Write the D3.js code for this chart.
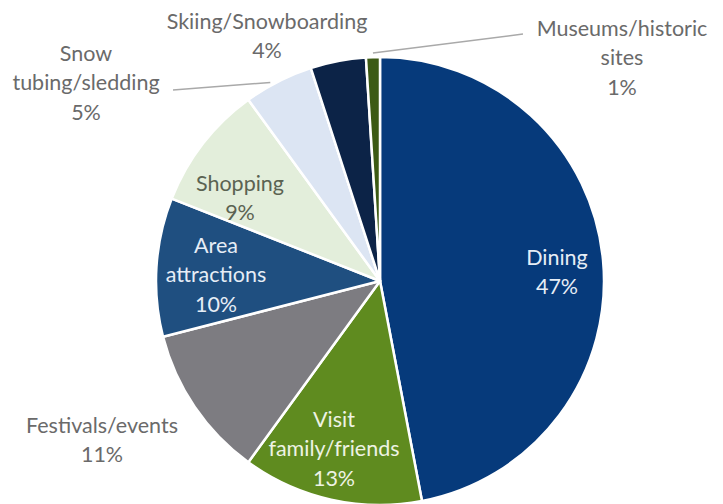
<!DOCTYPE html>
<html>
<head>
<meta charset="utf-8">
<script src="https://cdn.jsdelivr.net/npm/d3@7"></script>
<style>
  html, body { margin: 0; padding: 0; background: #fff; }
  svg text { font-family: Lato, "Open Sans", sans-serif; }
</style>
</head>
<body>
<svg id="chart" width="723" height="504"></svg>
<script>
// Activity shares, clockwise from 12 o'clock
const categories = ["Dining", "Visit family/friends", "Festivals/events", "Area attractions",
                    "Shopping", "Snow tubing/sledding", "Skiing/Snowboarding", "Museums/historic sites"];
const values = [47, 13, 11, 10, 9, 5, 4, 1];
// Label lines for each slice
const labelLines = [
  ["Dining", "47%"],
  ["Visit", "family/friends", "13%"],
  ["Festivals/events", "11%"],
  ["Area", "attractions", "10%"],
  ["Shopping", "9%"],
  ["Snow", "tubing/sledding", "5%"],
  ["Skiing/Snowboarding", "4%"],
  ["Museums/historic", "sites", "1%"]
];
const colors = ["#063a7b", "#5f8b1f", "#7d7c81", "#1f4f80", "#e3eedb", "#dce5f3", "#0c2347", "#3c5a14"];

const svg = d3.select("#chart");
const cx = 380, cy = 281, R = 224;
const g = svg.append("g").attr("transform", `translate(${cx},${cy})`);

const pie = d3.pie().sort(null).value(d => d.value);
const arcs = pie(categories.map((c, i) => ({ name: c, value: values[i], i })));
const arc = d3.arc().innerRadius(0).outerRadius(R);

g.selectAll("path.slice").data(arcs).enter().append("path")
  .attr("class", "slice")
  .attr("d", arc)
  .attr("fill", d => colors[d.data.i])
  .attr("stroke", "#fff")
  .attr("stroke-width", 2.5)
  .attr("stroke-linejoin", "round");

// Label placement (centre of first line, in chart coordinates) and styling per slice
const labelPos = [
  { x: 557, y: 257, fill: "#e6edf6" },
  { x: 334, y: 419, fill: "#eef3e4" },
  { x: 102, y: 425, fill: "#6a6a6a" },
  { x: 216, y: 245, fill: "#e6edf6" },
  { x: 240, y: 183, fill: "#5b6352" },
  { x: 86,  y: 53,  fill: "#6a6a6a" },
  { x: 267, y: 21,  fill: "#6a6a6a" },
  { x: 622, y: 28,  fill: "#6a6a6a" }
];
const lineGap = 29.5;

labelLines.forEach((lines, i) => {
  const p = labelPos[i];
  const t = svg.append("text")
    .attr("text-anchor", "middle")
    .attr("font-size", 21.5)
    .attr("fill", p.fill);
  lines.forEach((ln, k) => {
    t.append("tspan")
      .attr("x", p.x)
      .attr("y", p.y + k * lineGap)
      .attr("dy", "0.35em")
      .text(ln);
  });
});

// Leader lines for the two small outside-labelled slices at the top
const leaderArc = d3.arc().innerRadius(R).outerRadius(R);
const snow = arcs[5], museum = arcs[7];
const snowEnd = leaderArc.centroid(snow);
const museumEnd = leaderArc.centroid(museum);
const leaders = [
  { from: [173, 90], to: [cx + snowEnd[0] - 8, cy + snowEnd[1] + 1] },
  { from: [523, 34], to: [cx + museumEnd[0], cy + museumEnd[1] - 4] }
];
svg.selectAll("line.leader").data(leaders).enter().append("line")
  .attr("class", "leader")
  .attr("x1", d => d.from[0]).attr("y1", d => d.from[1])
  .attr("x2", d => d.to[0]).attr("y2", d => d.to[1])
  .attr("stroke", "#a9a9a9")
  .attr("stroke-width", 1.5);
</script>
</body>
</html>
